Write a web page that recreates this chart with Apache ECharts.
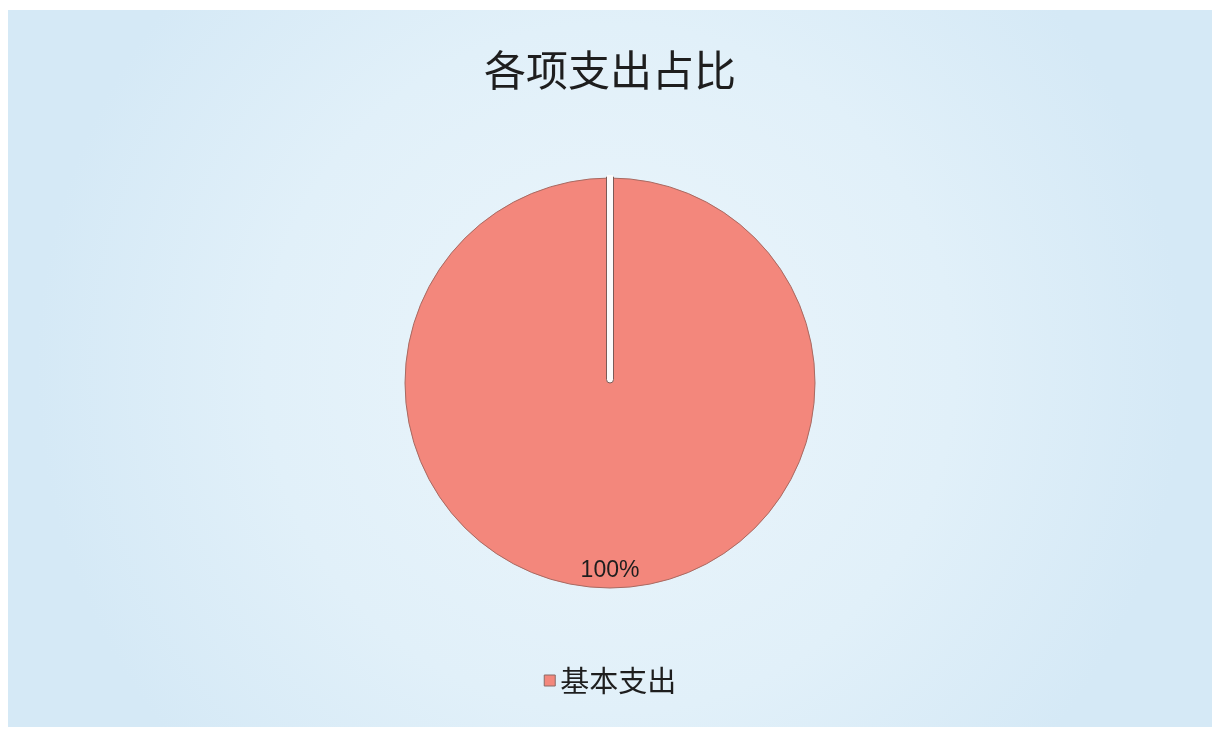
<!DOCTYPE html>
<html>
<head>
<meta charset="utf-8">
<script src="https://cdn.jsdelivr.net/npm/echarts@6/dist/echarts.min.js"></script>
<style>
html,body{margin:0;padding:0;background:#ffffff;width:1225px;height:729px;overflow:hidden;}
#chart{position:absolute;left:8px;top:10px;width:1204px;height:717px;}
</style>
</head>
<body>
<div id="chart"></div>
<script>
const titleText = '各项支出占比';
const categories = ['基本支出'];
const values = [100];

const chart = echarts.init(document.getElementById('chart'));
const option = {
  animation: false,
  backgroundColor: {
    type: 'radial', x: 0.5, y: 0.5, r: 0.8,
    colorStops: [
      { offset: 0, color: '#ebf5fb' },
      { offset: 0.6, color: '#e1f0f9' },
      { offset: 1, color: '#d5e9f6' }
    ]
  },
  title: {
    text: titleText,
    left: 'center',
    top: 34,
    textStyle: { fontFamily: 'Noto Sans CJK SC', fontSize: 42, fontWeight: 'normal', color: '#1e1e1e' }
  },
  legend: {
    data: categories,
    left: 'center',
    top: 651,
    icon: 'rect',
    itemWidth: 11,
    itemHeight: 11,
    itemGap: 10,
    itemStyle: { borderColor: '#8a6a66', borderWidth: 1 },
    textStyle: { fontFamily: 'Noto Sans CJK SC', fontSize: 29, color: '#1e1e1e' }
  },
  series: [{
    type: 'pie',
    center: ['50%', 373],
    radius: 205,
    startAngle: 90,
    clockwise: true,
    itemStyle: { color: '#f3877c', borderColor: '#a86a62', borderWidth: 1 },
    label: {
      show: true,
      position: 'inside',
      formatter: function (p) { return Math.round(p.percent) + '%'; },
      fontFamily: 'Liberation Sans',
      fontSize: 23,
      color: '#1e1e1e',
      offset: [0, 82]
    },
    labelLine: { show: false },
    emphasis: { disabled: true },
    data: categories.map((c, i) => ({ name: c, value: values[i] }))
  }]
};
chart.setOption(option);

const lay = chart.getModel().getSeriesByIndex(0).getData().getItemLayout(0);
if (lay) {
  const w = 7;
  chart.setOption({
    graphic: [{
      type: 'rect',
      z: 100,
      shape: { x: lay.cx - w / 2, y: lay.cy - lay.r - 1, width: w, height: lay.r + 1, r: [0, 0, 3.5, 3.5] },
      style: { fill: '#fbfbfb', stroke: '#7c5a56', lineWidth: 1 }
    }, {
      type: 'rect',
      z: 101,
      shape: { x: lay.cx - w / 2 + 0.5, y: lay.cy - lay.r - 3, width: w - 1, height: 4 },
      style: { fill: '#fbfbfb' }
    }]
  });
}
</script>
</body>
</html>
